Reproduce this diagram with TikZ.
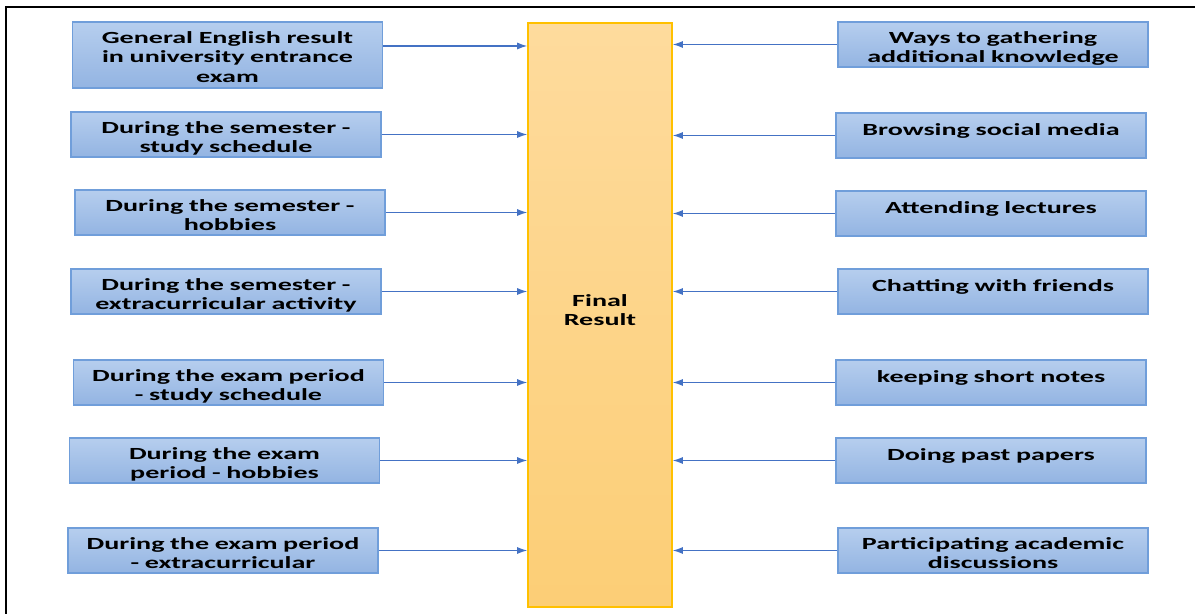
\documentclass[tikz,border=0pt]{standalone}
\usepackage{fontspec}
\setmainfont{Carlito}[FakeStretch=1.65]
\usepackage{tikz}
\usetikzlibrary{arrows.meta}
\definecolor{bluetop}{RGB}{182,206,238}
\definecolor{bluebot}{RGB}{147,180,226}
\definecolor{blueline}{RGB}{112,158,218}
\definecolor{arrowblue}{RGB}{68,114,196}
\definecolor{goldtop}{RGB}{254,219,157}
\definecolor{goldbot}{RGB}{252,206,118}
\definecolor{goldline}{RGB}{255,192,0}
\tikzstyle{factor} = [rectangle, minimum width=155pt, minimum height=22.5pt, inner sep=0pt, draw=blueline, line width=0.8pt, top color=bluetop, bottom color=bluebot, text width=150pt, align=center, text depth=7pt, font=\fontsize{8.5}{9.75}\selectfont\bfseries]
\tikzstyle{single} = [factor, text depth=6pt]
\tikzstyle{result} = [rectangle, minimum width=72pt, minimum height=292pt, inner sep=0pt, draw=goldline, line width=0.8pt, top color=goldtop, bottom color=goldbot, align=center, text depth=5pt, font=\fontsize{8.5}{9.75}\selectfont\bfseries]
\tikzstyle{arrow} = [arrowblue, line width=0.6pt, ->, >={Latex[length=5pt,width=3.5pt]}]

\begin{document}
\begin{tikzpicture}[x=0.5pt, y=-0.5pt]
\useasboundingbox (0,0) rectangle (1195,614);
% frame
\draw[line width=1pt] (6,614) -- (6,7) -- (1195,7);
% centre
\node (final) [result] at (600,315) {Final\\Result};
% left column
\node (english) [factor, minimum height=33pt, text depth=17.5pt] at (227.5,55) {General English result\\in university entrance\\exam};
\node (semstudy) [factor] at (226,134.5) {During the semester -\\study schedule};
\node (semhobby) [factor] at (230,212.5) {During the semester -\\hobbies};
\node (semextra) [factor] at (226,291.5) {During the semester -\\extracurricular activity};
\node (exstudy) [factor] at (228.5,382.5) {During the exam period\\- study schedule};
\node (exhobby) [factor] at (224.5,460.5) {During the exam\\period - hobbies};
\node (exextra) [factor] at (223,550.5) {During the exam period\\- extracurricular};
% right column
\node (ways) [factor] at (993,44.5) {Ways to gathering\\additional knowledge};
\node (social) [single] at (991,135.5) {Browsing social media};
\node (lectures) [single] at (991,213.5) {Attending lectures};
\node (chat) [single] at (993,291.5) {Chatting with friends};
\node (notes) [single] at (991,382.5) {keeping short notes};
\node (papers) [single] at (991,460.5) {Doing past papers};
\node (discuss) [factor] at (993,550.5) {Participating academic\\discussions};
% arrows
\draw [arrow] ([yshift=4.5pt]english.east) -- ([yshift=4.5pt]english.east -| final.west);
\draw [arrow] (semstudy.east) -- (semstudy.east -| final.west);
\draw [arrow] (semhobby.east) -- (semhobby.east -| final.west);
\draw [arrow] (semextra.east) -- (semextra.east -| final.west);
\draw [arrow] (exstudy.east) -- (exstudy.east -| final.west);
\draw [arrow] (exhobby.east) -- (exhobby.east -| final.west);
\draw [arrow] (exextra.east) -- (exextra.east -| final.west);
\draw [arrow] (ways.west) -- (ways.west -| final.east);
\draw [arrow] (social.west) -- (social.west -| final.east);
\draw [arrow] (lectures.west) -- (lectures.west -| final.east);
\draw [arrow] (chat.west) -- (chat.west -| final.east);
\draw [arrow] (notes.west) -- (notes.west -| final.east);
\draw [arrow] (papers.west) -- (papers.west -| final.east);
\draw [arrow] (discuss.west) -- (discuss.west -| final.east);
\end{tikzpicture}
\end{document}
